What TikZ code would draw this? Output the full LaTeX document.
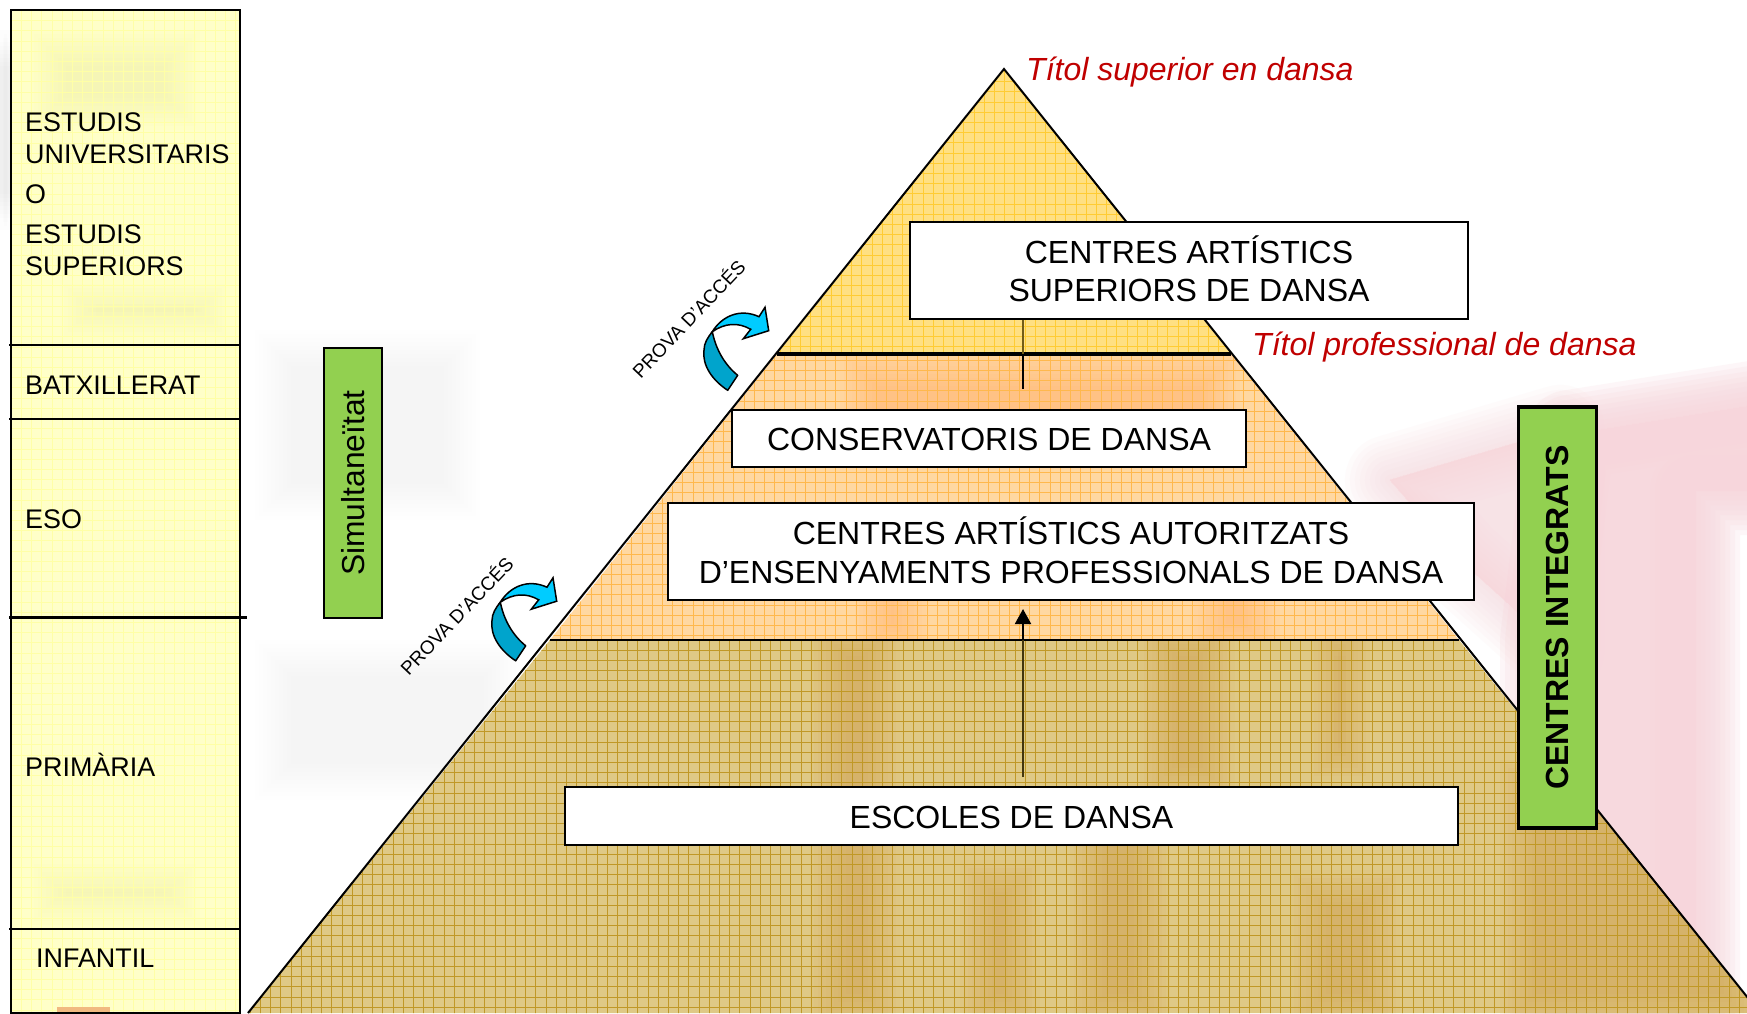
\documentclass[tikz,border=0pt]{standalone}
\usepackage{fontspec}
\setmainfont{Liberation Sans}
\usetikzlibrary{arrows.meta}
\definecolor{colfill}{HTML}{FFFFC8}
\definecolor{colgrid}{HTML}{FFFFA6}
\definecolor{yelfill}{HTML}{FFE082}
\definecolor{yelgrid}{HTML}{FFCC33}
\definecolor{orafill}{HTML}{FFD8A2}
\definecolor{oragrid}{HTML}{FFB84D}
\definecolor{brofill}{HTML}{DFC985}
\definecolor{brogrid}{HTML}{C09826}
\definecolor{bandtone}{HTML}{D08A3A}
\definecolor{oratone}{HTML}{FF9A50}
\definecolor{coltone}{HTML}{E4E49C}
\definecolor{greenbox}{HTML}{92D050}
\definecolor{titlered}{HTML}{C00000}
\definecolor{arrowlight}{HTML}{00CCFF}
\definecolor{arrowdark}{HTML}{00A4CC}
\definecolor{wash}{HTML}{F7D6DC}
\newcommand{\softrect}[5]{%
  \foreach \k in {0,1,...,9}{%
    \fill[#5,opacity=.035] ({#1+\k*4},{#3+\k*4}) rectangle ({#2-\k*4},{#4-\k*4});}}
\tikzset{
  labelbox/.style={draw=black,line width=2pt,fill=white,align=center,inner sep=0pt,
    font=\fontsize{32}{38.5}\selectfont},
  sidebox/.style={draw=black,line width=3pt,fill=greenbox,inner sep=0pt,rotate=90},
  collabel/.style={anchor=base west,inner sep=0pt,font=\fontsize{26.9}{30}\selectfont},
  redtitle/.style={anchor=base west,inner sep=0pt,text=titlered,
    font=\fontsize{32}{36}\selectfont\itshape},
  acces/.style={rotate=46.5,inner sep=0pt,font=\fontsize{19}{21}\selectfont},
  tier/.style={line width=2pt,draw=black},
  pics/turnarrow/.style={code={
    \draw[line width=1.5pt,fill=arrowdark,line join=round]
      (727.7,390.3) .. controls (712,380) and (702,365) .. (704,350)
      .. controls (704,343) and (708,337) .. (712.3,331.7)
      .. controls (716,350) and (725,365) .. (737.7,375.3) -- cycle;
    \draw[line width=1.5pt,fill=arrowlight,line join=miter]
      (712.3,331.7) .. controls (722,316) and (740,308) .. (759,316.7)
      -- (765,307.3) -- (768.7,330.7) -- (743.3,338.7) -- (750.7,329.3)
      .. controls (738,322) and (725,323) .. (712.3,331.7) -- cycle;
  }}
}
\begin{document}
\begin{tikzpicture}[x=1pt,y=-1pt]
\useasboundingbox (0,0) rectangle (1747,1013);
\clip (0,0) rectangle (1747,1013);
\fill[white] (0,0) rectangle (1747,1013);
% soft background wash
\foreach \w in {90,80,70,60,50,40,30,20,10,2}{
  \draw[wash,line width=\w pt,opacity=.09,line join=round,fill]
   (1560,430) -- (1390,480) -- (1460,560) -- (1560,650) -- cycle;
  \draw[wash,line width=\w pt,opacity=.2,line join=round,fill]
   (1790,400) -- (1570,435) -- (1545,640) -- (1545,1040)
   -- (1695,1040) -- (1695,490) -- (1790,490) -- cycle;}
\softrect{255}{480}{330}{520}{black!6}
\softrect{255}{520}{640}{800}{black!6}
\softrect{0}{11}{30}{230}{black!20}
% left column
\fill[colfill] (11,10) rectangle (240,1013);
\begin{scope}
  \clip (11,10) rectangle (240,1013);
  \softrect{30}{200}{30}{130}{coltone}
  \softrect{60}{230}{280}{340}{coltone}
  \softrect{30}{200}{860}{925}{coltone}
  \foreach \i in {0,...,23}{\draw[colgrid,line width=.6pt] ({11+\i*10.2},0) -- ({11+\i*10.2},1013);}
  \foreach \i in {0,...,100}{\draw[colgrid,line width=.6pt] (0,{\i*10.2}) -- (240,{\i*10.2});}
  \fill[orange!60!brown!55] (57,1007) rectangle (110,1013);
\end{scope}
\draw[line width=2pt] (11,1013) -- (11,10) -- (240,10) -- (240,1013) -- cycle;
\draw[line width=2pt] (9,345) -- (240,345);
\draw[line width=2pt] (9,419) -- (240,419);
\draw[line width=3pt] (9,617) -- (247,617);
\draw[line width=2pt] (9,929) -- (240,929);
\node[collabel] (c1) at (25,131) {ESTUDIS};
\node[collabel] (c2) at (25,163) {UNIVERSITARIS};
\node[collabel] (c3) at (25,203) {O};
\node[collabel] (c4) at (25,243) {ESTUDIS};
\node[collabel] (c5) at (25,275) {SUPERIORS};
\node[collabel] (c6) at (25,394) {BATXILLERAT};
\node[collabel] (c7) at (25,528) {ESO};
\node[collabel] (c8) at (25,776) {PRIMÀRIA};
\node[collabel] (c9) at (36,967) {INFANTIL};
% pyramid
\fill[yelfill] (1004,69) -- (777,354) -- (1231,354) -- cycle;
\fill[orafill] (777,354) -- (550,640) -- (1459,640) -- (1231,354) -- cycle;
\fill[brofill] (550,640) -- (248,1013) -- (1760,1013) -- (1459,640) -- cycle;
\begin{scope}
  \clip (777,354) -- (550,640) -- (1459,640) -- (1231,354) -- cycle;
  \softrect{855}{930}{540}{660}{oratone}
  \softrect{1190}{1280}{540}{660}{oratone}
  \softrect{840}{1240}{350}{470}{oratone}
\end{scope}
\begin{scope}
  \clip (550,640) -- (248,1013) -- (1760,1013) -- (1459,640) -- cycle;
  \softrect{810}{900}{620}{1030}{bandtone}
  \softrect{1070}{1170}{780}{1030}{bandtone}
  \softrect{1140}{1235}{620}{800}{bandtone}
  \softrect{1310}{1370}{620}{780}{bandtone}
  \softrect{960}{1040}{860}{1030}{bandtone}
  \softrect{1500}{1760}{760}{1030}{bandtone}
  \softrect{1290}{1400}{870}{1030}{bandtone}
\end{scope}
\begin{scope}
  \clip (1004,69) -- (777,354) -- (1231,354) -- cycle;
  \foreach \i in {0,...,50}{\draw[yelgrid,line width=.7pt] ({770+\i*10.2},0) -- ({770+\i*10.2},360);}
  \foreach \i in {0,...,35}{\draw[yelgrid,line width=.7pt] (700,{\i*10.2}) -- (1300,{\i*10.2});}
\end{scope}
\begin{scope}
  \clip (777,354) -- (550,640) -- (1459,640) -- (1231,354) -- cycle;
  \foreach \i in {0,...,92}{\draw[oragrid,line width=.7pt] ({540+\i*10.2},340) -- ({540+\i*10.2},650);}
  \foreach \i in {0,...,30}{\draw[oragrid,line width=.7pt] (540,{350+\i*10.2}) -- (1470,{350+\i*10.2});}
\end{scope}
\begin{scope}
  \clip (550,640) -- (248,1013) -- (1760,1013) -- (1459,640) -- cycle;
  \foreach \i in {0,...,150}{\draw[brogrid,line width=.7pt] ({240+\i*10.2},630) -- ({240+\i*10.2},1020);}
  \foreach \i in {0,...,38}{\draw[brogrid,line width=.7pt] (240,{640+\i*10.2}) -- (1770,{640+\i*10.2});}
\end{scope}
\draw[tier] (248,1013) -- (1004,69) -- (1760,1013);
\draw[line width=3.5pt] (777,354) -- (1231,354);
\draw[line width=2.5pt] (550,640) -- (1459,640);
% title labels
\node[redtitle] (t1) at (1026,80) {Títol superior en dansa};
\node[redtitle] (t2) at (1252,355) {Títol professional de dansa};
% boxes
\node[labelbox,minimum width=558pt,minimum height=97pt,text depth=4pt] (sup) at (1189,270.5) {CENTRES ARTÍSTICS\\SUPERIORS DE DANSA};
\node[labelbox,minimum width=514pt,minimum height=57pt,text height=25pt] (con) at (989,438.5) {CONSERVATORIS DE DANSA};
\node[labelbox,minimum width=806pt,minimum height=97pt,text depth=3pt] (aut) at (1071,551.5) {CENTRES ARTÍSTICS AUTORITZATS\\D’ENSENYAMENTS PROFESSIONALS DE DANSA};
\node[labelbox,minimum width=893pt,minimum height=58pt,text height=26pt] (esc) at (1011.5,816) {ESCOLES DE DANSA};
% connectors
\coordinate (lineend) at (1023,389);
\coordinate (linemid) at (1023,354);
\coordinate (arrowtail) at (1023,777);
\coordinate (arrowmid) at (1023,640);
\coordinate (arrowtip) at (1023,609);
\draw[line width=2pt,color=black!55!yelgrid] (lineend |- sup.south) -- (linemid);
\draw[line width=2pt] (linemid) -- (lineend);
\draw[line width=2pt,color=black!65!brogrid] (arrowtail) -- (arrowmid);
\draw[line width=2pt,-{Triangle[width=16pt,length=15pt]}] (arrowmid) -- (arrowtip);
% side boxes
\node[sidebox,line width=2.5pt,minimum width=270pt,minimum height=58pt,font=\fontsize{31.8}{34}\selectfont] (sim) at (353,483) {Simultaneïtat};
\node[sidebox,line width=3.5pt,minimum width=421pt,minimum height=78pt,font=\fontsize{32}{34}\selectfont\bfseries] (int) at (1557.5,617.5) {CENTRES INTEGRATS};
% access arrows
\pic {turnarrow};
\pic[shift={(-212,270.5)}] {turnarrow};
\node[acces] (p1) at (688,318) {PROVA D’ACCÉS};
\node[acces] (p2) at (456,615) {PROVA D’ACCÉS};
\end{tikzpicture}
\end{document}
